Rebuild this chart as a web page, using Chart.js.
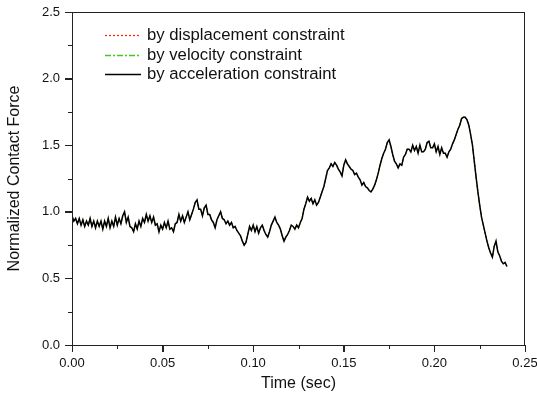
<!DOCTYPE html>
<html>
<head>
<meta charset="utf-8">
<script src="https://cdn.jsdelivr.net/npm/chart.js@4/dist/chart.umd.min.js"></script>
<style>
	html, body { margin: 0; padding: 0; background: #fff; }
	#wrap { position: relative; width: 537px; height: 402px; }
</style>
</head>
<body>
<div id="wrap"><canvas id="force-chart" width="537" height="402"></canvas></div>
<script>
// Sample times (ms) of the contact force record
var timeMs = [
	0, 1, 2, 3, 4, 5, 6, 7, 8, 9, 10, 11, 12, 13, 14, 15, 16, 17, 18, 19,
	20, 21, 22, 23, 24, 25, 26, 27, 28, 29, 30, 31, 32, 33, 34, 35, 36, 37, 38, 39,
	40, 41, 42, 43, 44, 45, 46, 47, 48, 49, 50, 51, 52, 53, 54, 55, 56, 57, 58, 59,
	60, 61, 62, 63, 64, 65, 66, 67, 68, 69, 70, 71, 72, 73, 74, 75, 76, 77, 78, 79,
	80, 81, 82, 83, 84, 85, 86, 87, 88, 89, 90, 91, 92, 93, 94, 95, 96, 97, 98, 99,
	100, 101, 102, 103, 104, 105, 106, 107, 108, 109, 110, 111, 112, 113, 114, 115, 116, 117, 118, 119,
	120, 121, 122, 123, 124, 125, 126, 127, 128, 129, 130, 131, 132, 133, 134, 135, 136, 137, 138, 139,
	140, 141, 142, 143, 144, 145, 146, 147, 148, 149, 150, 151, 152, 153, 154, 155, 156, 157, 158, 159,
	160, 161, 162, 163, 164, 165, 166, 167, 168, 169, 170, 171, 172, 173, 174, 175, 176, 177, 178, 179,
	180, 181, 182, 183, 184, 185, 186, 187, 188, 189, 190, 191, 192, 193, 194, 195, 196, 197, 198, 199,
	200, 201, 202, 203, 204, 205, 206, 207, 208, 209, 210, 211, 212, 213, 214, 215, 216, 217, 218, 219,
	220, 221, 222, 223, 224, 225, 226, 227, 228, 229, 230, 231, 232, 233, 234, 235, 236, 237, 238, 239, 240
];

// Normalized contact force (the three constraint results coincide)
var contactForce = [
	0.97, 0.93, 0.95, 0.91, 0.95, 0.90, 0.94, 0.89, 0.93, 0.90, 0.95, 0.89, 0.93, 0.88, 0.93, 0.89, 0.93, 0.87, 0.93, 0.89,
	0.95, 0.88, 0.93, 0.89, 0.96, 0.90, 0.95, 0.91, 0.97, 1.00, 0.92, 0.96, 0.89, 0.88, 0.85, 0.91, 0.87, 0.93, 0.89, 0.95,
	0.92, 0.98, 0.93, 0.97, 0.92, 0.96, 0.90, 0.91, 0.85, 0.90, 0.87, 0.92, 0.88, 0.93, 0.87, 0.88, 0.85, 0.91, 0.92, 0.98,
	0.93, 0.97, 0.92, 0.96, 1.00, 0.94, 0.98, 1.02, 1.07, 1.09, 1.02, 1.02, 0.97, 1.03, 1.05, 0.98, 0.98, 0.94, 0.92, 0.88,
	0.94, 0.97, 1.00, 0.95, 0.94, 0.91, 0.93, 0.90, 0.92, 0.88, 0.89, 0.86, 0.84, 0.82, 0.78, 0.75, 0.77, 0.83, 0.89, 0.86,
	0.90, 0.85, 0.89, 0.84, 0.88, 0.90, 0.86, 0.83, 0.81, 0.85, 0.90, 0.93, 0.96, 0.92, 0.90, 0.87, 0.82, 0.78, 0.81, 0.83,
	0.86, 0.90, 0.89, 0.87, 0.90, 0.88, 0.92, 0.95, 1.02, 1.06, 1.11, 1.08, 1.10, 1.06, 1.09, 1.05, 1.07, 1.11, 1.15, 1.19,
	1.25, 1.31, 1.33, 1.36, 1.34, 1.37, 1.35, 1.32, 1.30, 1.27, 1.35, 1.39, 1.36, 1.34, 1.32, 1.31, 1.28, 1.29, 1.26, 1.24,
	1.20, 1.22, 1.19, 1.18, 1.16, 1.15, 1.17, 1.20, 1.24, 1.29, 1.35, 1.40, 1.44, 1.47, 1.52, 1.54, 1.49, 1.43, 1.38, 1.36,
	1.33, 1.36, 1.35, 1.41, 1.43, 1.47, 1.47, 1.45, 1.50, 1.46, 1.49, 1.44, 1.50, 1.45, 1.45, 1.47, 1.52, 1.53, 1.48, 1.48,
	1.51, 1.45, 1.49, 1.43, 1.48, 1.44, 1.44, 1.41, 1.45, 1.47, 1.51, 1.54, 1.58, 1.62, 1.65, 1.70, 1.71, 1.71, 1.69, 1.65,
	1.58, 1.50, 1.38, 1.26, 1.15, 1.05, 0.96, 0.90, 0.84, 0.78, 0.73, 0.69, 0.66, 0.74, 0.78, 0.70, 0.67, 0.63, 0.61, 0.62, 0.59
];

var seriesLabels = ['by displacement constraint', 'by velocity constraint', 'by acceleration constraint'];
var xTickStep = 0.05;
var yTickStep = 0.5;

var FONT = '"Liberation Sans", Arial, sans-serif';
var AXIS_COLOR = '#222';
var lineStyles = [
	{ color: 'rgb(255, 40, 0)', dash: [2, 2], width: 1 },
	{ color: 'rgb(70, 200, 30)', dash: [6, 2, 2, 2], width: 1 },
	{ color: 'rgb(0, 0, 0)', dash: [], width: 1.5 }
];

var points = timeMs.map(function (t, i) {
	return { x: t / 1000, y: contactForce[i] };
});

// Frame, tick marks and in-plot legend
var framePlugin = {
	id: 'frame',
	afterDraw: function (chart) {
		var ctx = chart.ctx;
		var area = chart.chartArea;
		var xs = chart.scales.x, ys = chart.scales.y;
		ctx.save();
		ctx.strokeStyle = AXIS_COLOR;
		ctx.lineWidth = 1;
		ctx.strokeRect(area.left + 0.5, area.top + 0.5, area.right - area.left - 1, area.bottom - area.top);

		ctx.beginPath();
		xs.ticks.forEach(function (tk, i) {
			var px = Math.round(xs.getPixelForValue(tk.value)) + 0.5;
			ctx.moveTo(px, area.bottom);
			ctx.lineTo(px, area.bottom + 7);
			if (i < xs.ticks.length - 1) {
				var mx = Math.round(xs.getPixelForValue((tk.value + xs.ticks[i + 1].value) / 2)) + 0.5;
				ctx.moveTo(mx, area.bottom);
				ctx.lineTo(mx, area.bottom + 4);
			}
		});
		ys.ticks.forEach(function (tk, j) {
			var py = Math.round(ys.getPixelForValue(tk.value)) + 0.5;
			ctx.moveTo(area.left, py);
			ctx.lineTo(area.left - 7, py);
			if (j < ys.ticks.length - 1) {
				var my = Math.round(ys.getPixelForValue((tk.value + ys.ticks[j + 1].value) / 2)) + 0.5;
				ctx.moveTo(area.left, my);
				ctx.lineTo(area.left - 4, my);
			}
		});
		ctx.stroke();

		// legend
		ctx.font = '16.7px ' + FONT;
		ctx.textBaseline = 'middle';
		ctx.textAlign = 'left';
		seriesLabels.forEach(function (label, row) {
			var st = lineStyles[row];
			var y = Math.round(35 + row * 19.5) + 0.5;
			ctx.beginPath();
			ctx.setLineDash(st.dash);
			ctx.strokeStyle = st.color;
			ctx.lineWidth = 1.3;
			ctx.moveTo(105, y);
			ctx.lineTo(141, y);
			ctx.stroke();
			ctx.setLineDash([]);
			ctx.fillStyle = '#111';
			ctx.fillText(label, 147, y);
		});
		ctx.restore();
	}
};

var ctx = document.getElementById('force-chart').getContext('2d');

new Chart(ctx, {
	type: 'line',
	data: {
		datasets: seriesLabels.map(function (label, k) {
			return {
				label: label,
				data: points,
				borderColor: lineStyles[k].color,
				borderDash: lineStyles[k].dash,
				borderWidth: lineStyles[k].width,
				pointRadius: 0,
				order: 2 - k
			};
		})
	},
	options: {
		responsive: false,
		animation: false,
		layout: { padding: { left: 0, right: 12, top: 12, bottom: 0 } },
		plugins: {
			legend: { display: false },
			tooltip: { enabled: false }
		},
		scales: {
			x: {
				type: 'linear',
				min: 0,
				max: 0.25,
				afterFit: function (scale) {
					scale.height = 57;
					scale.paddingLeft = 0;
					scale.paddingRight = 0;
				},
				ticks: {
					stepSize: xTickStep,
					padding: 4,
					color: '#111',
					font: { family: FONT, size: 13 },
					maxRotation: 0,
					callback: function (v) { return v.toFixed(2); }
				},
				grid: {
					drawOnChartArea: false,
					drawTicks: true,
					tickLength: 7,
					tickColor: AXIS_COLOR,
					color: AXIS_COLOR
				},
				border: { color: AXIS_COLOR, width: 1 },
				title: {
					display: true,
					text: 'Time (sec)',
					color: '#111',
					font: { family: FONT, size: 16 },
					padding: { top: 0, bottom: 9 }
				}
			},
			y: {
				min: 0,
				max: 2.5,
				afterFit: function (scale) {
					scale.width = 72;
					scale.paddingTop = 0;
					scale.paddingBottom = 0;
				},
				ticks: {
					stepSize: yTickStep,
					padding: 5,
					color: '#111',
					font: { family: FONT, size: 13 },
					callback: function (v) { return v.toFixed(1); }
				},
				grid: {
					drawOnChartArea: false,
					drawTicks: true,
					tickLength: 7,
					tickColor: AXIS_COLOR,
					color: AXIS_COLOR
				},
				border: { color: AXIS_COLOR, width: 1 },
				title: {
					display: true,
					text: 'Normalized Contact Force',
					color: '#111',
					font: { family: FONT, size: 16 },
					padding: { top: 5, bottom: 0 }
				}
			}
		}
	},
	plugins: [framePlugin]
});
</script>
</body>
</html>
